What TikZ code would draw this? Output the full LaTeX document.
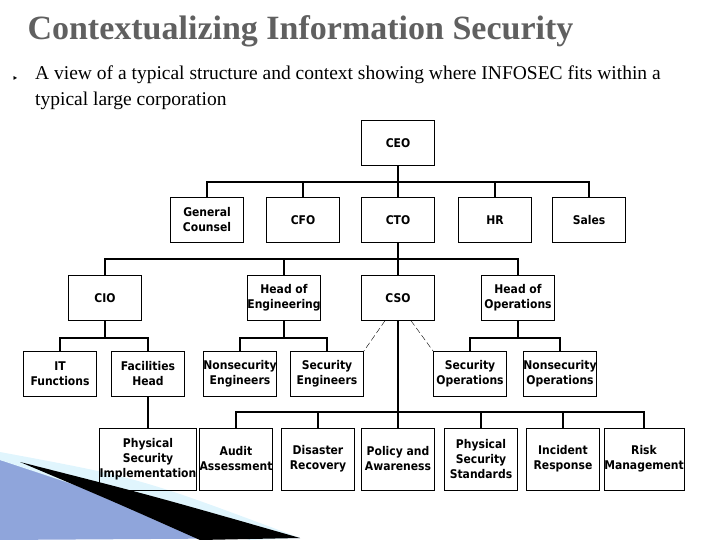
\documentclass[tikz,border=0pt]{standalone}
\usepackage{fontspec}
\setmainfont{Liberation Serif}
\newfontfamily\boxfont{DejaVu Sans Condensed}
\usetikzlibrary{positioning}
\tikzset{
  unit/.style={draw,thin,minimum width=73pt,minimum height=45pt,inner sep=0pt,
    align=center,font=\boxfont\bfseries\fontsize{12}{15}\selectfont},
  tall/.style={unit,minimum height=62pt},
  link/.style={line width=1.3pt},
  dotted link/.style={thin,dash pattern=on 6pt off 3pt}
}
\begin{document}
\begin{tikzpicture}[x=1pt,y=-1pt]
  \useasboundingbox (0,0) rectangle (720,540);
  % swoosh
  \fill[cyan!40!blue!45] (0,460) -- (300,538) -- (0,540) -- cycle;
  \fill[cyan!12] (0,452) .. controls (140,478) .. (300,538) -- (250,540) .. controls (120,500) .. (0,460) -- cycle;
  \fill[black] (20,462) .. controls (150,495) .. (300,538) -- (200,540) .. controls (110,500) .. (20,462) -- cycle;
  % title and text
  \node[anchor=west,gray!75!black,font=\bfseries\fontsize{34}{34}\selectfont] (title) at (24,31) {Contextualizing Information Security};
  \node[anchor=west,font=\fontsize{8}{8}\selectfont] (bullet) at (10,78) {\boxfont\symbol{"25B8}};
  \node[anchor=north west,align=left,inner sep=0pt,font=\fontsize{19.5}{26}\selectfont] (intro) at (35,66)
    {A view of a typical structure and context showing where INFOSEC fits within a\\typical large corporation};

  % level 1 and 2
  \node[unit] (ceo) at (398,143) {CEO};
  \node[unit] (gc) at (207,220) {General\\Counsel};
  \node[unit] (cfo) at (303,220) {CFO};
  \node[unit] (cto) at (398,220) {CTO};
  \node[unit] (hr) at (495,220) {HR};
  \node[unit] (sales) at (589,220) {Sales};
  % level 3
  \node[unit] (cio) at (105,298) {CIO};
  \node[unit] (hoe) at (284,298) {Head of\\Engineering};
  \node[unit] (cso) at (398,298) {CSO};
  \node[unit] (hoo) at (518,298) {Head of\\Operations};
  % level 4
  \node[unit] (itf) at (60,374) {IT\\Functions};
  \node[unit] (fac) at (148,374) {Facilities\\Head};
  \node[unit] (nse) at (240,374) {Nonsecurity\\Engineers};
  \node[unit] (se) at (327,374) {Security\\Engineers};
  \node[unit] (sop) at (470,374) {Security\\Operations};
  \node[unit] (nso) at (560,374) {Nonsecurity\\Operations};
  % level 5
  \node[tall] (psi) at (148,459) {Physical\\Security\\Implementation};
  \node[tall] (aud) at (236,459) {Audit\\Assessment};
  \node[tall] (dis) at (318,459) {Disaster\\Recovery};
  \node[tall] (pol) at (398,459) {Policy and\\Awareness};
  \node[tall] (pss) at (481,459) {Physical\\Security\\Standards};
  \node[tall] (inc) at (563,459) {Incident\\Response};
  \node[tall] (risk) at (644,459) {Risk\\Management};

  % connectors
  \coordinate (bus1) at (398,182);
  \draw[link] (ceo) -- (cto);
  \foreach \n in {gc,cfo,hr,sales}
    \draw[link] (bus1) -| (\n);
  \coordinate (bus2) at (398,259);
  \draw[link] (cto) -- (cso);
  \foreach \n in {cio,hoe,hoo}
    \draw[link] (bus2) -| (\n);
  \coordinate (cioBus) at (105,338);
  \coordinate (hoeBus) at (284,338);
  \coordinate (hooBus) at (518,338);
  \draw[link] (cio) -- (cioBus) -| (itf) (cioBus) -| (fac);
  \draw[link] (hoe) -- (hoeBus) -| (nse) (hoeBus) -| (se);
  \draw[link] (hoo) -- (hooBus) -| (sop) (hooBus) -| (nso);
  \draw[link] (fac) -- (psi);
  \coordinate (bus5) at (398,412);
  \draw[link] (cso) -- (pol);
  \foreach \n in {aud,dis,pss,inc,risk}
    \draw[link] (bus5) -| (\n);
  \draw[dotted link] (cso.south) ++(-13,0) -- (se.north east);
  \draw[dotted link] (cso.south) ++(13,0) -- (sop.north west);
\end{tikzpicture}
\end{document}
